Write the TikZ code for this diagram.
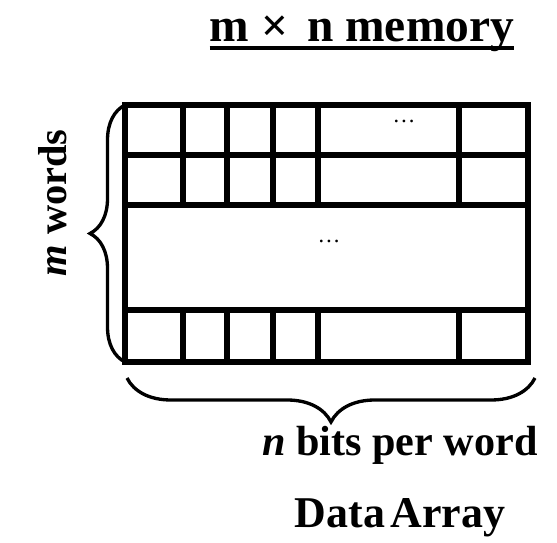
\documentclass[tikz,border=0pt]{standalone}
\usepackage{fontspec}
\setmainfont{Liberation Serif}
\usetikzlibrary{decorations.pathreplacing}

\begin{document}
\begin{tikzpicture}[x=.02cm,y=-.02cm,
  cell/.style={line width=3.2pt},
  curly/.style={decorate,line width=1.9pt},
  big/.style={font=\fontsize{24}{24}\selectfont\bfseries,inner sep=0pt}]
\useasboundingbox (0,0) rectangle (557,543);
% the array
\draw[cell] (125,105) rectangle (528,362);
\foreach \y in {155,205,310} \draw[cell] (125,\y) -- (528,\y);
\foreach \x in {183,227,273,318,459} {
  \draw[cell] (\x,105) -- (\x,205);
  \draw[cell] (\x,310) -- (\x,362);
}
\node[] (dotsa) at (404,121) {\fontsize{13}{13}\selectfont …};
\node[] (dotsb) at (329,241) {\fontsize{13}{13}\selectfont …};
% labels
\node[big,font=\fontsize{27}{27}\selectfont\bfseries,anchor=base] (title) at (362,42) {m ×\hspace{0.4em}n memory};
\draw[line width=2.2pt] ([yshift=-3.5pt]title.base west) -- ([yshift=-3.5pt]title.base east);
\node[big,font=\fontsize{23}{23}\selectfont\bfseries,rotate=90,anchor=base] (words) at (66,203) {\textit{m} words};
\node[big,anchor=base] (bits) at (400,455) {\textit{n} bits per word};
\node[big,font=\fontsize{25}{25}\selectfont\bfseries,anchor=base] (array) at (400,527) {Data\hspace{.12em}Array};
% braces
\coordinate (wa) at (125,362);
\coordinate (wb) at (125,105);
\coordinate (ba) at (535,378);
\coordinate (bb) at (127,378);
\draw[curly,decoration={brace,amplitude=.7cm}] (wa) -- (wb);
\draw[curly,decoration={brace,amplitude=.88cm}] (ba) -- (bb);
\end{tikzpicture}
\end{document}
